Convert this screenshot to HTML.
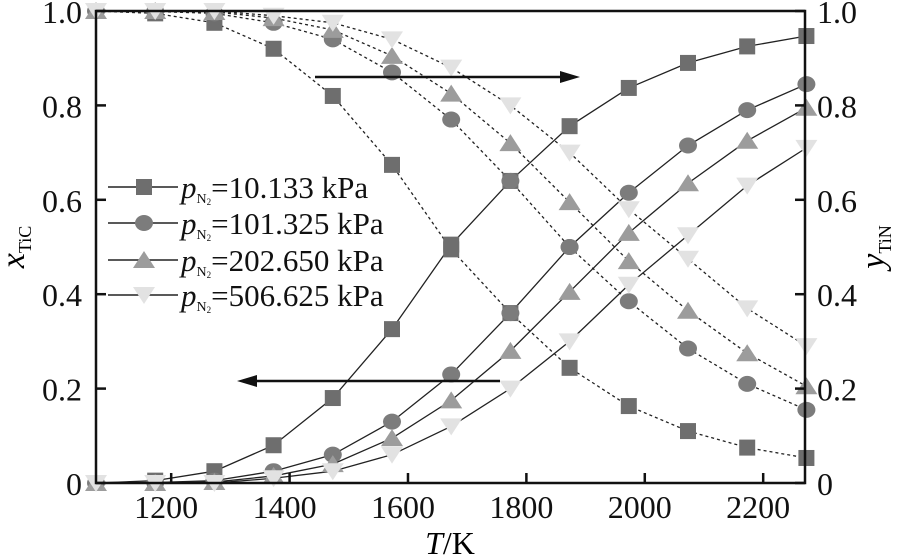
<!DOCTYPE html>
<html><head><meta charset="utf-8"><style>
html,body{margin:0;padding:0;background:#fff;}
svg{display:block;font-family:"Liberation Serif",serif;}
</style></head><body>
<svg id="s" width="900" height="559" xmlns="http://www.w3.org/2000/svg">
<rect width="900" height="559" fill="#fff"/>
<g id="data"></g>
<rect x="96" y="11" width="709" height="472" fill="none" stroke="#111" stroke-width="2.5"/>
<g id="ticks" stroke="#111" stroke-width="2.5"></g>
<g font-size="32" fill="#111" id="labels"></g>
<text x="24" y="247" font-size="34" font-style="italic" transform="rotate(-90 24 247)" text-anchor="middle">x<tspan font-size="18" font-style="normal" dy="7">TiC</tspan></text>
<text x="884" y="247" font-size="34" font-style="italic" transform="rotate(-90 884 247)" text-anchor="middle">y<tspan font-size="18" font-style="normal" dy="7">TiN</tspan></text>
<text x="450" y="554" font-size="32" text-anchor="middle"><tspan font-style="italic">T</tspan>/K</text>
<g stroke="#111" stroke-width="2.5">
<line x1="315" y1="77" x2="565" y2="77"/><line x1="250" y1="381" x2="500" y2="381"/>
</g>
<polygon points="580,77 560,71 560,83" fill="#111"/>
<polygon points="237,381 257,375 257,387" fill="#111"/>
<g id="legend" font-size="31" fill="#111"></g>
</svg>
<script>
const NS="http://www.w3.org/2000/svg";
function el(t,a,p){const e=document.createElementNS(NS,t);for(const k in a)e.setAttribute(k,a[k]);p.appendChild(e);return e;}
const X=i=>96+59.2*i, Y=v=>483-472*v;
const series=[
 {m:"sq",c:"#6e6e6e",d:[1.0,.995,.975,.92,.82,.674,.495,.36,.244,.163,.11,.075,.053]},
 {m:"ci",c:"#7c7c7c",d:[1.0,.999,.995,.975,.94,.87,.77,.64,.50,.385,.285,.21,.155]},
 {m:"tu",c:"#9c9c9c",d:[1,1,.998,.985,.96,.905,.825,.72,.595,.47,.365,.275,.205]},
 {m:"td",c:"#e2e2e2",d:[1,1,1,.99,.975,.94,.88,.80,.70,.58,.475,.37,.29]}];
const g=document.getElementById("data");
function mk(type,x,y,c,p){
 if(type=="sq")el("rect",{x:x-8,y:y-8,width:16,height:16,fill:c},p);
 else if(type=="ci")el("ellipse",{cx:x,cy:y,rx:9,ry:8,fill:c},p);
 else if(type=="tu")el("polygon",{points:`${x},${y-9} ${x-11},${y+8} ${x+11},${y+8}`,fill:c},p);
 else el("polygon",{points:`${x},${y+9} ${x-11},${y-8} ${x+11},${y-8}`,fill:c},p);
}
series.forEach(s=>{
 const p1=s.d.map((v,i)=>X(i)+","+Y(v)).join(" ");
 const p2=s.d.map((v,i)=>X(i)+","+Y(1-v)).join(" ");
 el("polyline",{points:p1,fill:"none",stroke:"#222","stroke-width":1.3,"stroke-dasharray":"3,3"},g);
 el("polyline",{points:p2,fill:"none",stroke:"#222","stroke-width":1.3},g);
});
series.forEach(s=>{s.d.forEach((v,i)=>{mk(s.m,X(i),Y(v),s.c,g);mk(s.m,X(i),Y(1-v),s.c,g);});});
const t=document.getElementById("ticks"),L=document.getElementById("labels");
for(let k=0;k<=5;k++){const v=k*0.2,y=Y(v);
 el("line",{x1:96,y1:y,x2:106,y2:y},t);el("line",{x1:795,y1:y,x2:805,y2:y},t);
 const lab=k==0?"0":v.toFixed(1);
 el("text",{x:82,y:y+12,"text-anchor":"end"},L).textContent=lab;
 el("text",{x:817,y:y+12},L).textContent=lab;}
for(let T=1200;T<=2200;T+=200){const x=96+(T-1073)*0.592;
 el("line",{x1:x,y1:483,x2:x,y2:473},t);
 el("text",{x:x-5,y:518,"text-anchor":"middle"},L).textContent=T;}
const lg=document.getElementById("legend");
const names=["10.133","101.325","202.650","506.625"],ly=[187,223,260,295];
series.forEach((s,i)=>{const y=ly[i];
 el("line",{x1:108,y1:y,x2:178,y2:y,stroke:"#222","stroke-width":1.5},lg);
 mk(s.m,144,y,s.c,lg);
 const tx=el("text",{x:181,y:y+11},lg);
 tx.innerHTML=`<tspan font-style="italic">p</tspan><tspan font-size="14" dy="5">N</tspan><tspan font-size="9" dy="2">2</tspan><tspan dy="-7">=${names[i]} kPa</tspan>`;
});
</script>
</body></html>
